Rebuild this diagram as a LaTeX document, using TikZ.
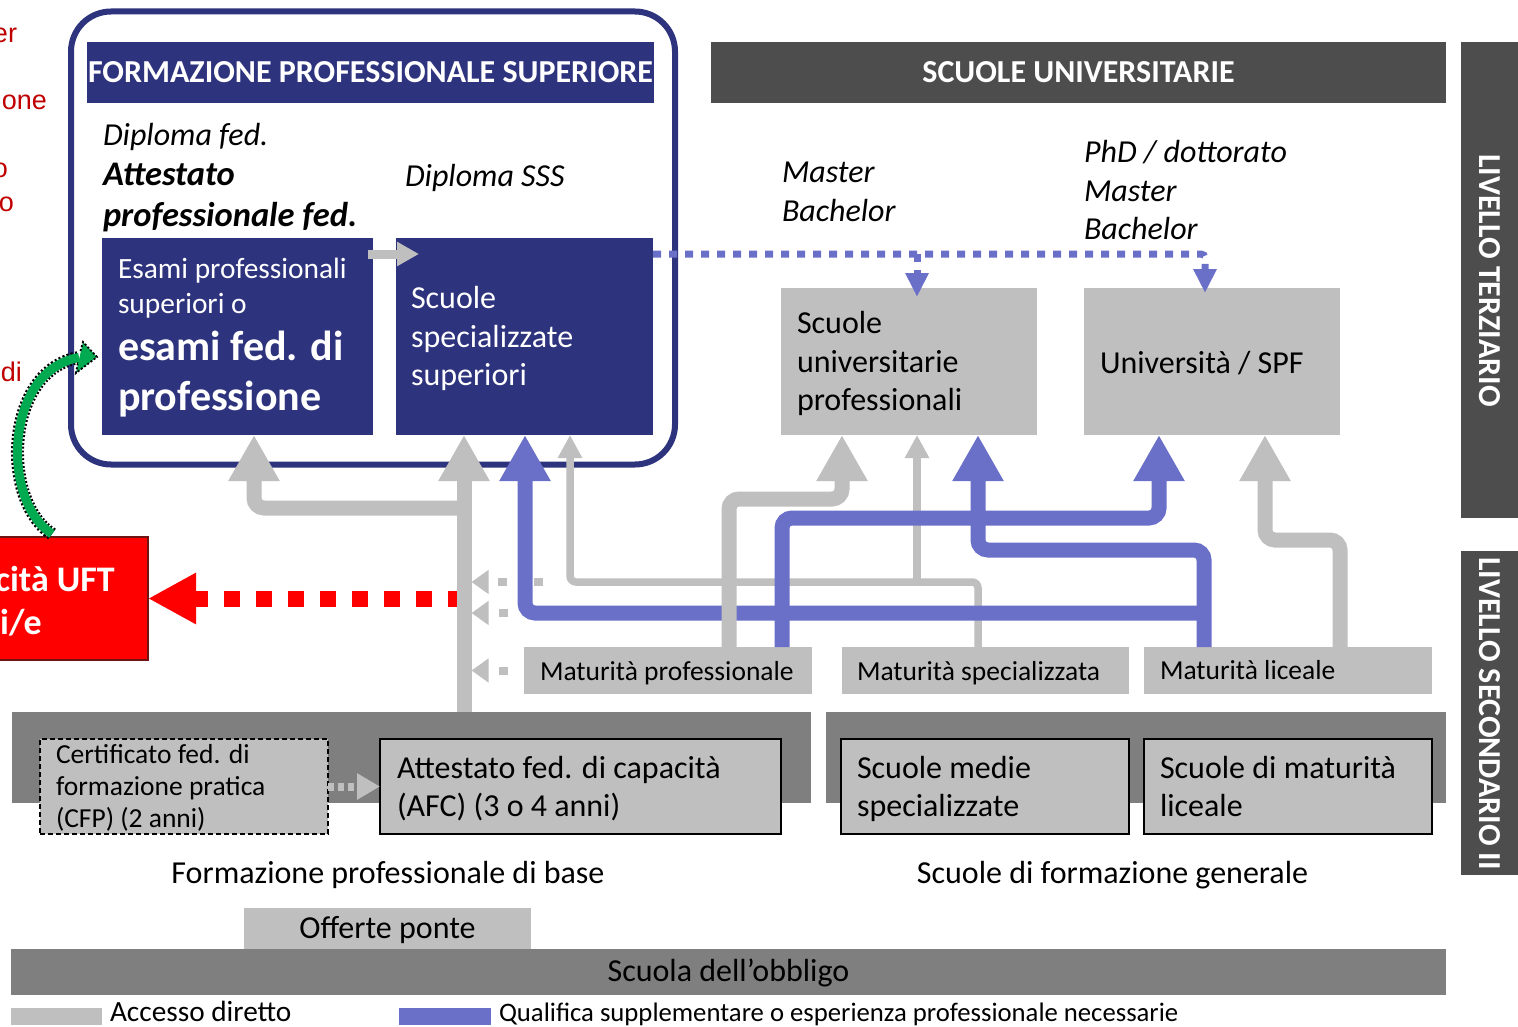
\documentclass[tikz,border=0pt]{standalone}
\usepackage{fontspec}
\setmainfont{Carlito}
\newfontfamily\arialfont{Liberation Sans}
\usetikzlibrary{arrows.meta,calc}
\definecolor{navy}{RGB}{46,51,126}
\definecolor{dgray}{RGB}{77,77,77}
\definecolor{mgray}{RGB}{127,127,127}
\definecolor{lgray}{RGB}{191,191,191}
\definecolor{bl}{RGB}{106,112,200}
\definecolor{redtxt}{RGB}{192,0,0}
\definecolor{grn}{RGB}{0,170,80}
\definecolor{redbd}{RGB}{110,20,20}
\newcommand\szN{\fontsize{32}{38.5}\selectfont}
\newcommand\szI{\fontsize{34.5}{40}\selectfont}
\newcommand\szM{\fontsize{27.5}{33}\selectfont}
\newcommand\szE{\fontsize{29.4}{34}\selectfont}
\newcommand\szB{\fontsize{42}{50}\selectfont}
\newcommand\szR{\fontsize{36}{44}\selectfont}
\newcommand\szL{\fontsize{29.3}{35}\selectfont}
\newcommand\szQ{\fontsize{26.7}{31}\selectfont}
\begin{document}
\begin{tikzpicture}[x=1pt,y=-1pt,
  bx/.style 2 args={rectangle,inner sep=0pt,outer sep=0pt,minimum width=#1,minimum height=#2},
  tx/.style={inner sep=0pt,outer sep=0pt,anchor=base west},
  tcc/.style={inner sep=0pt,outer sep=0pt,anchor=base},
  tred/.style={inner sep=0pt,outer sep=0pt,anchor=base east,text=redtxt,font=\arialfont\fontsize{27}{32}\selectfont},
  gthick/.style={draw=lgray,line width=15pt,rounded corners=10pt,-{Triangle[length=46pt,width=48pt]}},
  bthick/.style={draw=bl,line width=15pt,rounded corners=10pt,-{Triangle[length=46pt,width=48pt]}},
  gthin/.style={draw=lgray,line width=7.5pt,rounded corners=6pt,-{Triangle[length=23pt,width=23pt]}},
  gdots/.style={draw=lgray,line width=8pt,dash pattern=on 9pt off 27pt,-{Triangle[length=17pt,width=23pt]}},
  bdots/.style={draw=bl,line width=7pt,dash pattern=on 8pt off 8pt,rounded corners=4pt,-{Triangle[length=24pt,width=22pt]}},
  reddash/.style={draw=red,line width=16pt,dash pattern=on 16pt off 16pt,-{Triangle[length=48pt,width=48pt]}},
  lbox/.style={fill=lgray,draw=black,line width=2.5pt}
]
\path[fill=white] (0,0) rectangle (1518,1027);
\path[use as bounding box] (0,0) rectangle (1518,1027);

% ---- boxes
\node[bx={604}{453},draw=navy,line width=6pt,rounded corners=40pt] (fps) at (373,238) {};
\node[bx={567}{61},fill=navy] (fpsbar) at (370.5,72.5) {};
\node[bx={735}{61},fill=dgray] (subar) at (1078.5,72.5) {};
\node[bx={271}{197},fill=navy] (esami) at (237.5,336.5) {};
\node[bx={257}{197},fill=navy] (sss) at (524.5,336.5) {};
\node[bx={256}{147},fill=lgray] (sup) at (909,361.5) {};
\node[bx={256}{147},fill=lgray] (uni) at (1212,361.5) {};
\node[bx={59}{476},fill=dgray] (terz) at (1490.5,280) {};
\node[bx={59}{324},fill=dgray] (sec) at (1490.5,713) {};
\node[bx={158}{123},fill=red,draw=redbd,line width=2pt] (redbox) at (69,598.5) {};
\node[bx={288}{47},fill=lgray] (matprof) at (668,670.5) {};
\node[bx={287}{47},fill=lgray] (matspec) at (985.5,670.5) {};
\node[bx={288}{47},fill=lgray] (matlic) at (1288,670.5) {};
\node[bx={799}{91},fill=mgray] (fpbar) at (411.5,757.5) {};
\node[bx={620}{91},fill=mgray] (sfgbar) at (1136,757.5) {};
\node[bx={288}{95},fill=lgray,draw=black,line width=2pt,dash pattern=on 5pt off 3pt] (cfp) at (184,786.5) {};
\node[bx={401}{95},lbox] (afc) at (580.5,786.5) {};
\node[bx={288}{95},lbox] (sms) at (985,786.5) {};
\node[bx={288}{95},lbox] (sml) at (1288,786.5) {};
\node[bx={287}{41},fill=lgray] (ponte) at (387.5,928.5) {};
\node[bx={1435}{46},fill=mgray] (obbligo) at (728.5,972) {};
\node[bx={91}{17},fill=lgray] (leg1) at (56.5,1016.5) {};
\node[bx={92}{17},fill=bl] (leg2) at (445,1016.5) {};

% ---- helper coordinates
\coordinate (xtrunk) at (464,0);
\coordinate (te) at (471.5,0);
\coordinate (j1) at (917,582);
\coordinate (j2) at (570,582);
\coordinate (j3) at (525,613);
\coordinate (j4) at (1204,613);
\coordinate (j5) at (464,508);

% ---- thin gray
\draw[gthin] (matspec.north -| 978,0) -- (978,582) -- (570,582) -- (sss.south -| j2);
\draw[gthin] (j1) -- (sup.south -| j1);

% ---- gray dotted
\draw[gdots,dash phase=9pt] (j2) -- (te |- j2);
\draw[gdots,dash phase=19pt] (j3) -- (te |- j3);
\draw[gdots,dash phase=20pt] (matprof.west) -- (te |- matprof.west);
\draw[draw=lgray,line width=8pt,dash pattern=on 6pt off 4pt,-{Triangle[length=23pt,width=25pt]}] (cfp.east) -- (afc.west);

% ---- blue dotted
\draw[bdots] ($(sss.north east)+(0,16)$) -- ($(uni.north)+(-7,-34)$) -- ($(uni.north)+(-7,5)$);
\draw[bdots] ($(sup.north)+(8,-34)$) -- ($(sup.north)+(8,9)$);

% ---- red dashed
\draw[reddash] (xtrunk |- redbox.east) -- (redbox.east);

% ---- blue thick
\draw[bthick] (matlic.north -| j4) -- (1204,550) -- (978,550) -- (sup.south -| 978,0);
\draw[bthick] (j4) -- (j3) -- (sss.south -| j3);
\draw[bthick] (matprof.north -| 782,0) -- (782,518) -- (1159,518) -- (uni.south -| 1159,0);

% ---- gray thick
\draw[gthick] (matprof.north -| 729,0) -- (729,499) -- (842,499) -- (sup.south -| 842,0);
\draw[gthick] (matlic.north -| 1340,0) -- (1340,540) -- (1265,540) -- (uni.south -| 1265,0);
\draw[gthick] (fpbar.north -| xtrunk) -- (sss.south -| xtrunk);
\draw[gthick] (j5) -- (254,508) -- (esami.south -| 254,0);
\draw[draw=lgray,line width=9pt,-{Triangle[length=22pt,width=23pt]}] ($(esami.north east)+(-5,16)$) -- ($(sss.north west)+(23,16)$);

% ---- red cut texts
\node[tred] (r1) at (17,43) {er};
\node[tred] (r2) at (47,110) {one};
\node[tred] (r3) at (8,178) {o};
\node[tred] (r4) at (14,212) {o};
\node[tred] (r5) at (22,381) {di};

% ---- texts
\node[tcc,text=white,font=\szN\bfseries] (tfps) at (370.5,83) {FORMAZIONE PROFESSIONALE SUPERIORE};
\node[tcc,text=white,font=\szN\bfseries] (tsu) at (1078.5,83) {SCUOLE UNIVERSITARIE};
\node[tx,font=\szN\itshape] (l1) at (103,146) {Diploma fed.};
\node[tx,font=\szI\bfseries\itshape] (l2) at (103,186) {Attestato};
\node[tx,font=\szI\bfseries\itshape] (l3) at (103,226) {professionale fed.};
\node[tx,font=\szN\itshape] (l4) at (405,187) {Diploma SSS};
\node[tx,text=white,font=\szE] (e1) at (118,278) {Esami professionali};
\node[tx,text=white,font=\szE] (e2) at (118,313) {superiori o};
\node[tx,text=white,font=\szB\bfseries] (e3) at (118,360) {esami fed. di};
\node[tx,text=white,font=\szB\bfseries] (e4) at (118,410) {professione};
\node[tx,text=white,font=\szN] (s1) at (411,308) {Scuole};
\node[tx,text=white,font=\szN] (s2) at (411,347) {specializzate};
\node[tx,text=white,font=\szN] (s3) at (411,385) {superiori};
\node[tx,font=\szN\itshape] (m1) at (782,183) {Master};
\node[tx,font=\szN\itshape] (m2) at (782,222) {Bachelor};
\node[tx,font=\szN\itshape] (p1) at (1084,163) {PhD / dottorato};
\node[tx,font=\szN\itshape] (p2) at (1084,202) {Master};
\node[tx,font=\szN\itshape] (p3) at (1084,240) {Bachelor};
\node[tx,font=\szN] (u1) at (797,333) {Scuole};
\node[tx,font=\szN] (u2) at (797,372) {universitarie};
\node[tx,font=\szN] (u3) at (797,410) {professionali};
\node[tx,font=\szN] (un) at (1100,373) {Università / SPF};
\node[tx,font=\szM] (mp) at (540,680) {Maturità professionale};
\node[tx,font=\szM] (ms) at (857,680) {Maturità specializzata};
\node[tx,font=\szM] (ml) at (1160,679) {Maturità liceale};
\node[tx,font=\szM] (c1) at (56,763) {Certificato fed. di};
\node[tx,font=\szM] (c2) at (56,795) {formazione pratica};
\node[tx,font=\szM] (c3) at (56,827) {(CFP) (2 anni)};
\node[tx,font=\szN] (a1) at (397,778) {Attestato fed. di capacità};
\node[tx,font=\szN] (a2) at (397,816) {(AFC) (3 o 4 anni)};
\node[tx,font=\szN] (sm1) at (857,778) {Scuole medie};
\node[tx,font=\szN] (sm2) at (857,816) {specializzate};
\node[tx,font=\szN] (sl1) at (1160,778) {Scuole di maturità};
\node[tx,font=\szN] (sl2) at (1160,816) {liceale};
\node[tcc,font=\szN] (fpb) at (388,883) {Formazione professionale di base};
\node[tcc,font=\szN] (sfg) at (1112.5,883) {Scuole di formazione generale};
\node[tcc,font=\szN] (op) at (387.5,938) {Offerte ponte};
\node[tcc,font=\szN] (so) at (728.5,981) {Scuola dell’obbligo};
\node[tx,font=\szL] (lg1) at (110,1021) {Accesso diretto};
\node[tx,font=\szQ] (lg2) at (499,1021) {Qualifica supplementare o esperienza professionale necessarie};
\node[inner sep=0pt,rotate=-90,text=white,font=\szN\bfseries] (lt) at (1489.5,280.5) {LIVELLO TERZIARIO};
\node[inner sep=0pt,rotate=-90,text=white,font=\szN\bfseries] (ls) at (1489.5,713.5) {LIVELLO SECONDARIO II};
\node[inner sep=0pt,anchor=base east,text=white,font=\szR\bfseries] (rb1) at (115,591) {cità UFT};
\node[inner sep=0pt,anchor=base east,text=white,font=\szR\bfseries] (rb2) at (42,634) {i/e};

% ---- green curved arrow
\coordinate (gs) at ($(redbox.north)+(-17,-3)$);
\coordinate (ge) at ($(esami.west)+(-23,21)$);
\draw[black,line width=13pt,dash pattern=on 2pt off 2pt] (gs) .. controls (0,500) and (5,370) .. (ge);
\draw[grn,line width=9pt] (gs) .. controls (0,500) and (5,370) .. (ge);
\fill[grn] (83,342) -- (97,357) -- (76,373) -- cycle;
\draw[black,line width=1.8pt,dash pattern=on 2pt off 2pt] (80.5,351) -- (83,342) -- (97,357) -- (76,373) -- (77.6,364);
\end{tikzpicture}
\end{document}
